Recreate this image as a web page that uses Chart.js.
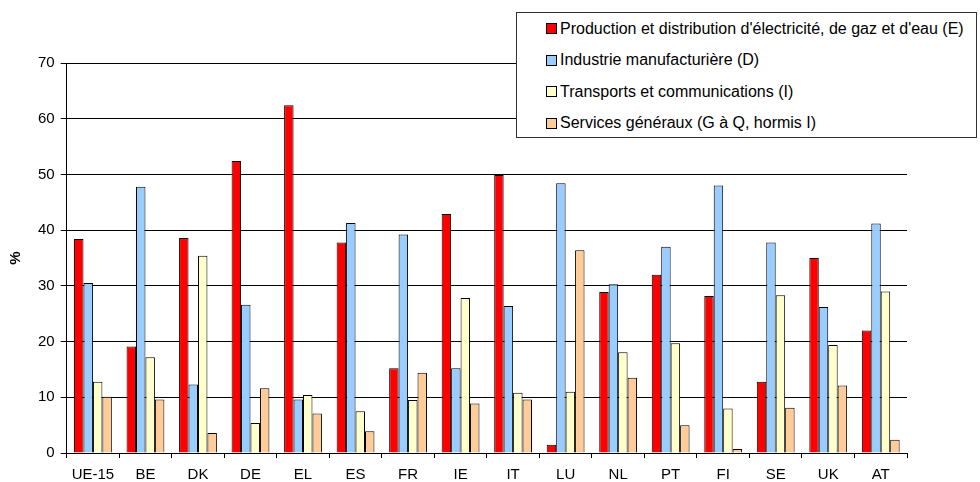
<!DOCTYPE html>
<html>
<head>
<meta charset="utf-8">
<script src="https://cdn.jsdelivr.net/npm/chart.js@4/dist/chart.umd.min.js"></script>
<style>
  html, body { margin: 0; padding: 0; background: #fff; }
  #wrap { position: relative; width: 980px; height: 482px; }
  #legend {
    position: absolute; left: 516px; top: 12px; width: 461px; height: 126px;
    border: 1px solid #333; background: #fff; box-sizing: border-box;
    font-family: "Liberation Sans", Arial, sans-serif; font-size: 16px; color: #000;
    padding: 0 0 0 29px;
  }
  .item { height: 31.5px; display: flex; align-items: center; white-space: nowrap; }
  .item span.sw { display: inline-block; width: 9px; height: 9px; border: 1px solid #000; margin-right: 3px; }
</style>
</head>
<body>
<div id="wrap">
  <canvas id="chart" width="980" height="482"></canvas>
  <div id="legend"></div>
</div>
<script>
document.addEventListener('DOMContentLoaded', () => {
    // --- Data ---
    const countries = ['UE-15', 'BE', 'DK', 'DE', 'EL', 'ES', 'FR', 'IE', 'IT', 'LU', 'NL', 'PT', 'FI', 'SE', 'UK', 'AT'];
    const seriesNames = [
        "Production et distribution d'électricité, de gaz et d'eau (E)",
        'Industrie manufacturière (D)',
        'Transports et communications (I)',
        'Services généraux (G à Q, hormis I)'
    ];
    const electricite = [38.4, 19.1, 38.6, 52.4, 62.4, 37.8, 15.2, 42.9, 49.9, 1.5, 28.9, 32.0, 28.2, 12.8, 35.0, 22.0];
    const industrie   = [30.5, 47.8, 12.3, 26.6, 9.6, 41.3, 39.2, 15.2, 26.4, 48.4, 30.3, 37.0, 48.0, 37.8, 26.2, 41.2];
    const transports  = [12.8, 17.2, 35.4, 5.4, 10.4, 7.5, 9.5, 27.8, 10.8, 11.0, 18.1, 19.7, 8.0, 28.3, 19.4, 29.0];
    const services    = [10.1, 9.6, 3.6, 11.6, 7.1, 3.9, 14.4, 8.9, 9.6, 36.4, 13.5, 5.0, 0.7, 8.1, 12.1, 2.4];
    const yTicks = [0, 10, 20, 30, 40, 50, 60, 70];

    const colors = ['#FF0000', '#99CCFF', '#FFFFCC', '#FFCC99'];
    const font = { family: '"Liberation Sans", Arial, sans-serif', size: 15 };

    const datasets = [electricite, industrie, transports, services].map((data, i) => ({
        label: seriesNames[i],
        data: data,
        backgroundColor: colors[i],
        borderColor: '#000',
        borderWidth: 1,
        barPercentage: 1.0,
        categoryPercentage: 0.72
    }));

    // --- Legend (HTML) ---
    const legend = document.getElementById('legend');
    seriesNames.forEach((name, i) => {
        const row = document.createElement('div');
        row.className = 'item';
        const sw = document.createElement('span');
        sw.className = 'sw';
        sw.style.background = colors[i];
        row.appendChild(sw);
        row.appendChild(document.createTextNode(name));
        legend.appendChild(row);
    });

    new Chart(document.getElementById('chart').getContext('2d'), {
        type: 'bar',
        data: { labels: countries, datasets: datasets },
        options: {
            responsive: false,
            animation: false,
            layout: { padding: { top: 63, right: 73, left: 0, bottom: -10 } },
            plugins: { legend: { display: false }, tooltip: { enabled: false } },
            scales: {
                x: {
                    grid: { offset: true, drawOnChartArea: false, color: '#000', tickLength: 5 },
                    border: { color: '#000' },
                    ticks: { color: '#000', font: font, padding: 8, maxRotation: 0 }
                },
                y: {
                    min: 0, max: 70,
                    afterBuildTicks: axis => { axis.ticks = yTicks.map(v => ({ value: v })); },
                    grid: { color: '#000', tickLength: 6 },
                    border: { color: '#000' },
                    ticks: { color: '#000', font: font, padding: 6 },
                    title: { display: true, text: '%', color: '#000', font: { family: font.family, size: 15, weight: 'bold' }, padding: 7 }
                }
            }
        }
    });
});
</script>
</body>
</html>
